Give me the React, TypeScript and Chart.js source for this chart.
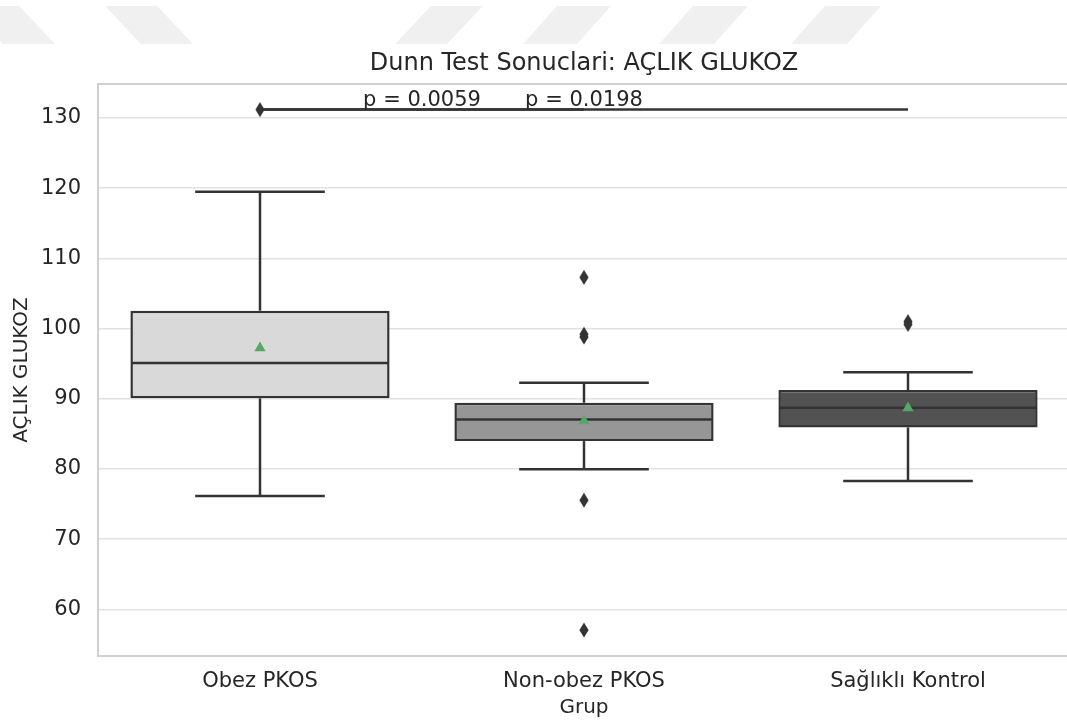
import React, { useEffect, useRef } from "react";
import { Chart, registerables } from "chart.js";

Chart.register(...registerables);

// ---- data ----
const GROUPS = ["Obez PKOS", "Non-obez PKOS", "Sağlıklı Kontrol"];
const Q1 = [90.06, 83.97, 85.92];
const MEDIAN = [95.1, 87.06, 88.72];
const Q3 = [102.55, 89.43, 91.24];
const WHISKER_LOW = [76.16, 79.97, 78.3];
const WHISKER_HIGH = [119.5, 92.28, 93.77];
const MEAN = [97.25, 86.85, 88.67];
const OUTLIERS_OBEZ = [131.2];
const OUTLIERS_NONOBEZ = [107.3, 99.2, 98.8, 75.55, 57.05];
const OUTLIERS_SAGLIKLI = [101.0, 100.6];
const OUTLIERS = [OUTLIERS_OBEZ, OUTLIERS_NONOBEZ, OUTLIERS_SAGLIKLI];
const COMPARE_FROM = [0, 0];
const COMPARE_TO = [1, 2];
const P_LABELS = ["p = 0.0059", "p = 0.0198"];
const BRACKET_Y = 131.2;
const Y_TICKS = [60, 70, 80, 90, 100, 110, 120, 130];
const Y_MIN = 53.35;
const Y_MAX = 134.85;

// ---- styles ----
const FONT = "'DejaVu Sans', 'Liberation Sans', sans-serif";
const TEXT = "#262626";
const EDGE = "#333333";
const BOX_COLORS = ["#d9d9d9", "#969696", "#525252"];
const MEAN_COLOR = "#55a868";
const GRID = "#e2e2e2";
const SPINE = "#d0d0d0";
const LINE_W = 2.5;

// light diagonal band shapes across the top of the page
const STRIPES: number[][] = [
  [-33, 19, 55, 3],
  [105, 157, 193, 141],
  [431, 483, 447, 395],
  [557, 611, 577, 523],
  [693, 748, 714, 659],
  [825, 881, 847, 791],
];

function makeDiamond(): HTMLCanvasElement {
  const c = document.createElement("canvas");
  c.width = 10;
  c.height = 16;
  const g = c.getContext("2d")!;
  g.fillStyle = EDGE;
  g.beginPath();
  g.moveTo(5, 0.5);
  g.lineTo(9.6, 8);
  g.lineTo(5, 15.5);
  g.lineTo(0.4, 8);
  g.closePath();
  g.fill();
  return c;
}

const whiskerPlugin = {
  id: "boxWhiskers",
  afterDatasetDraw(chart: any, args: any) {
    if (args.index !== 0) return;
    const { ctx } = chart;
    const x = chart.scales.x;
    const y = chart.scales.y;
    const meta = chart.getDatasetMeta(0);
    ctx.save();
    ctx.strokeStyle = EDGE;
    ctx.lineWidth = LINE_W;
    ctx.lineCap = "butt";
    const seg = (x1: number, y1: number, x2: number, y2: number) => {
      ctx.beginPath();
      ctx.moveTo(x1, y1);
      ctx.lineTo(x2, y2);
      ctx.stroke();
    };
    GROUPS.forEach((_, i) => {
      const bar = meta.data[i];
      const cx = x.getPixelForValue(i);
      const half = bar.width / 2;
      const cap = half / 2;
      const yQ1 = y.getPixelForValue(Q1[i]);
      const yQ3 = y.getPixelForValue(Q3[i]);
      const yLo = y.getPixelForValue(WHISKER_LOW[i]);
      const yHi = y.getPixelForValue(WHISKER_HIGH[i]);
      const yMed = y.getPixelForValue(MEDIAN[i]);
      seg(cx, yQ3, cx, yHi);
      seg(cx - cap, yHi, cx + cap, yHi);
      seg(cx, yQ1, cx, yLo);
      seg(cx - cap, yLo, cx + cap, yLo);
      seg(cx - half + 1, yMed, cx + half - 1, yMed);
    });
    ctx.restore();
  },
};

const framePlugin = {
  id: "topSpine",
  beforeDatasetsDraw(chart: any) {
    const { ctx, chartArea } = chart;
    ctx.save();
    ctx.strokeStyle = SPINE;
    ctx.lineWidth = 2;
    ctx.beginPath();
    ctx.moveTo(chartArea.left - 1, chartArea.top);
    ctx.lineTo(chartArea.right + 1, chartArea.top);
    ctx.stroke();
    ctx.restore();
  },
};

const pLabelPlugin = {
  id: "pLabels",
  afterDatasetsDraw(chart: any) {
    const { ctx } = chart;
    const x = chart.scales.x;
    const y = chart.scales.y;
    ctx.save();
    ctx.font = `21px ${FONT}`;
    ctx.fillStyle = TEXT;
    ctx.textAlign = "center";
    ctx.textBaseline = "alphabetic";
    P_LABELS.forEach((label, k) => {
      const mx = (x.getPixelForValue(COMPARE_FROM[k]) + x.getPixelForValue(COMPARE_TO[k])) / 2;
      ctx.fillText(label, mx, y.getPixelForValue(BRACKET_Y) - 4);
    });
    ctx.restore();
  },
};

export default function App() {
  const ref = useRef<HTMLCanvasElement>(null);

  useEffect(() => {
    const canvas = ref.current;
    if (!canvas) return;
    const diamond = makeDiamond();

    const outlierPoints = OUTLIERS.flatMap((vals, g) => vals.map((v) => ({ x: GROUPS[g], y: v })));
    const meanPoints = MEAN.map((v, i) => ({ x: GROUPS[i], y: v }));
    const bracketSets = COMPARE_FROM.map((from, k) => ({
      type: "line" as const,
      data: [
        { x: GROUPS[from], y: BRACKET_Y },
        { x: GROUPS[COMPARE_TO[k]], y: BRACKET_Y },
      ],
      borderColor: EDGE,
      borderWidth: LINE_W,
      pointRadius: 0,
      order: 3,
    }));

    const chart = new Chart(canvas, {
      type: "bar",
      data: {
        labels: GROUPS,
        datasets: [
          {
            type: "bar",
            data: GROUPS.map((_, i) => [Q1[i], Q3[i]]),
            backgroundColor: BOX_COLORS,
            borderColor: EDGE,
            borderWidth: LINE_W,
            borderSkipped: false,
            barPercentage: 0.8,
            categoryPercentage: 1,
            order: 10,
          } as any,
          {
            type: "line",
            data: outlierPoints,
            showLine: false,
            pointStyle: diamond,
            pointRadius: 6,
            order: 2,
          } as any,
          ...bracketSets,
          {
            type: "line",
            data: meanPoints,
            showLine: false,
            pointStyle: "triangle",
            pointRadius: 6.5,
            backgroundColor: MEAN_COLOR,
            borderColor: MEAN_COLOR,
            borderWidth: 0,
            order: 0,
          } as any,
        ],
      },
      options: {
        animation: false,
        responsive: true,
        maintainAspectRatio: false,
        events: [],
        layout: { padding: { left: 0, right: 40, top: 0, bottom: 0 } },
        plugins: {
          legend: { display: false },
          tooltip: { enabled: false },
          title: {
            display: true,
            text: "Dunn Test Sonuclari: AÇLIK GLUKOZ",
            fullSize: false,
            color: TEXT,
            font: { family: FONT, size: 24, weight: "normal" },
            padding: { top: 49.5, bottom: 5.7 },
          },
        },
        scales: {
          x: {
            type: "category",
            offset: true,
            grid: { display: false, drawTicks: false },
            border: { display: true, color: SPINE, width: 2 },
            ticks: { color: TEXT, font: { family: FONT, size: 21 }, padding: 13 },
            title: {
              display: true,
              text: "Grup",
              color: TEXT,
              font: { family: FONT, size: 20 },
              padding: { top: 0, bottom: 5 },
            },
            afterFit: (s: any) => {
              s.height = 69;
            },
          },
          y: {
            type: "linear",
            min: Y_MIN,
            max: Y_MAX,
            afterBuildTicks: (s: any) => {
              s.ticks = Y_TICKS.map((v) => ({ value: v }));
            },
            grid: { color: GRID, lineWidth: 1.5, drawTicks: false },
            border: { display: true, color: SPINE, width: 2 },
            ticks: { color: TEXT, font: { family: FONT, size: 21 }, padding: 17 },
            title: {
              display: true,
              text: "AÇLIK GLUKOZ",
              color: TEXT,
              font: { family: FONT, size: 20 },
              padding: { top: 10, bottom: 0 },
            },
            afterFit: (s: any) => {
              s.width = 98;
            },
          },
        },
      },
      plugins: [framePlugin, whiskerPlugin, pLabelPlugin],
    });

    return () => chart.destroy();
  }, []);

  return (
    <div
      style={{
        position: "fixed",
        left: 0,
        top: 0,
        width: 1067,
        height: 725,
        overflow: "hidden",
        background: "#ffffff",
      }}
    >
      <svg
        width={1067}
        height={50}
        style={{ position: "absolute", left: 0, top: 0, filter: "blur(0.6px)" }}
      >
        {STRIPES.map((s, i) => (
          <polygon
            key={i}
            points={`${s[0]},6 ${s[1]},6 ${s[2]},44 ${s[3]},44`}
            fill="#f0f0f0"
          />
        ))}
      </svg>
      <div style={{ position: "absolute", left: 0, top: 0, width: 1110, height: 725 }}>
        <canvas ref={ref} style={{ display: "block" }} />
      </div>
    </div>
  );
}
